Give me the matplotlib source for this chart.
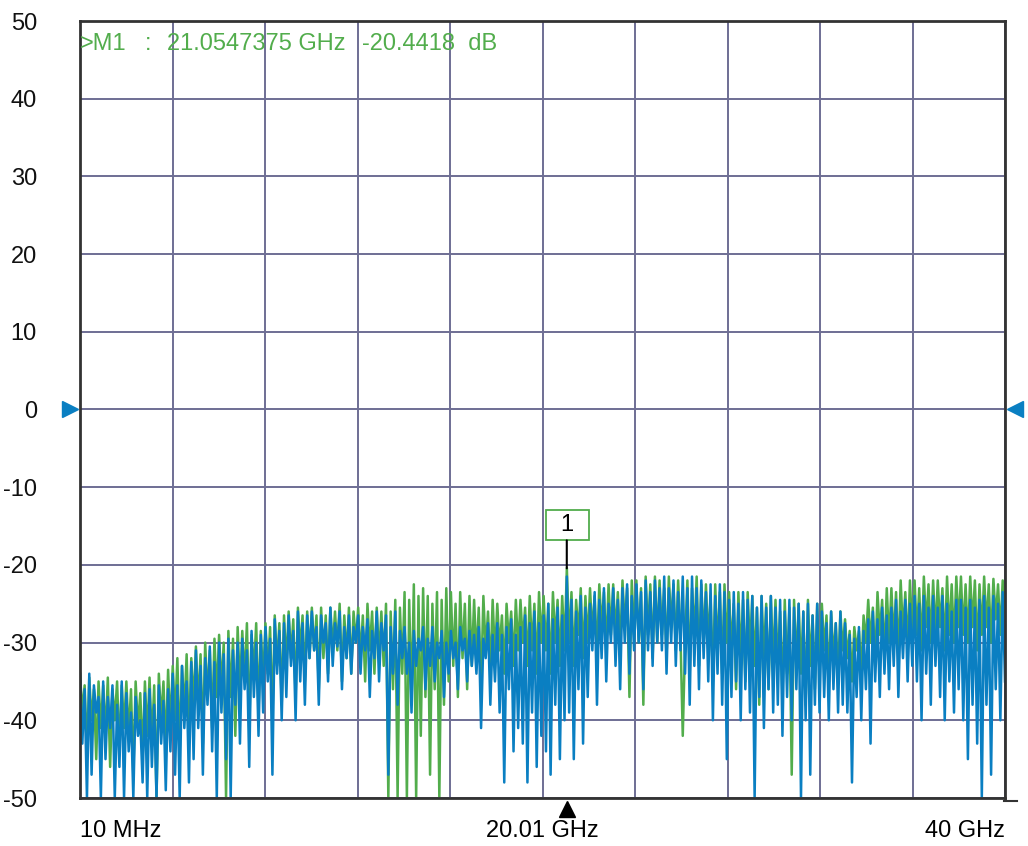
import matplotlib.pyplot as plt
import numpy as np
from matplotlib.patches import Rectangle
from matplotlib.transforms import IdentityTransform

plt.rcParams['font.family'] = ['Liberation Sans', 'DejaVu Sans']

# sweep: 10 MHz .. 40 GHz, 400 points (one row = 1 GHz)
f_start, f_stop = 0.01, 40.0

# trace 1 (green), dB
green_db = [
    -34, -39, -35.5, -44, -34.5, -40, -36, -45, -35, -41,
    -35.5, -42, -34.5, -46, -36, -40, -35, -44, -35.5, -41,
    -35, -42, -36, -47, -35, -41, -36.5, -45, -35, -42,
    -34.5, -43, -35.5, -50, -34, -40, -35, -44, -33.5, -41,
    -33, -40, -32, -44, -33, -39, -31.5, -43, -32, -38,
    -30.5, -38, -31.5, -43, -30, -37, -31, -41, -29.5, -37,
    -29, -36, -30, -50, -28.5, -37, -29.5, -42, -28, -36,
    -28.5, -35, -27.5, -41, -29, -34, -27.5, -39, -28.5, -35,
    -27.5, -34, -28, -40, -26.5, -33, -27.5, -38, -26.5, -33,
    -26, -32, -27, -37, -25.5, -31, -26.5, -35, -26, -32,
    -25.5, -31, -26.5, -36, -25.5, -32, -26.5, -34, -25.5, -31,
    -26, -31, -25, -35, -26.5, -32, -25.5, -34, -26, -30,
    -25.5, -32, -26.5, -35, -25, -31, -26, -34, -25.5, -32,
    -26, -33, -25, -50, -26, -36, -24.5, -50, -25.5, -34,
    -23.5, -50, -24.5, -38, -22.5, -50, -24, -42, -23, -37,
    -24, -47, -25, -36, -23.5, -50, -24.5, -38, -23, -35,
    -23.5, -33, -25, -37, -23.5, -32, -25, -36, -24, -33,
    -24.5, -32, -25.5, -36, -24, -31, -26, -34, -24.5, -32,
    -25, -31, -26.5, -34, -25, -30, -26, -33, -24.5, -31,
    -24.5, -30, -25.5, -33, -24, -31, -25, -34, -23.5, -30,
    -24, -31, -25, -34, -23.5, -30, -24.5, -33, -24, -31,
    -20.4, -30, -23.5, -33, -24.5, -29, -23, -32, -24, -30,
    -23, -29, -24, -32, -22.5, -28, -23.5, -31, -22.5, -29,
    -22.5, -29, -23.5, -31, -22, -28, -23, -37, -22, -29,
    -22, -30, -23, -38, -21.5, -29, -22.5, -32, -21.5, -30,
    -22, -29, -23, -32, -21.5, -28, -22.5, -31, -22, -29,
    -42, -30, -22, -34, -23, -29, -21.5, -33, -22.5, -30,
    -22.5, -30, -24, -35, -22.5, -31, -23.5, -34, -22.5, -30,
    -23.5, -31, -25, -36, -23.5, -32, -24.5, -35, -23.5, -31,
    -24, -33, -25.5, -38, -24, -32, -25, -36, -24, -33,
    -24.5, -33, -26, -37, -24.5, -34, -25.5, -47, -24.5, -33,
    -25, -34, -26, -38, -24.5, -33, -26.5, -36, -25, -34,
    -25, -31, -26.5, -35, -26, -32, -27.5, -34, -26, -31,
    -27, -32, -28.5, -35, -28, -31, -28.5, -34, -26.5, -30,
    -24.5, -30, -25.5, -33, -23.5, -29, -24.5, -32, -23, -30,
    -23, -30, -23.5, -32, -22, -29, -23.5, -31, -22, -29,
    -22, -29, -23, -31, -21.5, -28, -22.5, -30, -22, -29,
    -22, -28, -23, -31, -21.5, -29, -22.5, -30, -21.5, -28,
    -21.5, -29, -22.5, -30, -21.5, -28, -22, -31, -22.5, -29,
    -21.5, -28, -22.5, -30, -21.8, -27, -22.5, -29, -22, -27,
]

# trace 2 (blue), dB
blue_db = [
    -34, -43, -36, -50, -34, -47, -35.5, -39, -37, -50,
    -35, -45, -37, -41, -35.5, -50, -38, -46, -35, -50,
    -36.5, -44, -39, -50, -37, -42, -40, -48, -36.5, -50,
    -36, -46, -38, -50, -35.5, -43, -37.5, -49, -36, -44,
    -34, -47, -35.5, -50, -33, -41, -35, -48, -32.5, -45,
    -31, -41, -33, -47, -32, -38, -30.5, -44, -32.5, -50,
    -30, -39, -31.5, -45, -29.5, -50, -31, -38, -30, -43,
    -29.5, -36, -31, -46, -28.5, -37, -30, -42, -29, -39,
    -28, -35, -29.5, -47, -27, -34, -28.5, -40, -27.5, -37,
    -26.5, -33, -28.5, -40, -26, -35, -27.5, -38, -26.5, -32,
    -26, -31, -28, -38, -26.5, -30, -27.5, -35, -25.5, -33,
    -27.5, -30.5, -26, -36, -28, -32, -26.5, -34, -28, -30,
    -26.5, -34, -28, -31, -27, -37, -28.5, -32, -26, -35,
    -27.5, -31, -26.5, -47, -28, -34, -26, -38, -28.5, -32,
    -28, -34, -30, -39, -28.5, -33, -29.5, -31, -28, -36,
    -29.5, -33, -28, -35, -30, -32, -28.5, -37, -30, -34,
    -28.5, -32, -30, -36, -28, -31, -29.5, -35, -28.5, -33,
    -29, -34, -28, -41, -29.5, -32, -27.5, -38, -29, -35,
    -27.5, -39, -29, -48, -28, -36, -27, -44, -29, -41,
    -28, -43, -26.5, -48, -27.5, -39, -26, -46, -27.5, -42,
    -26.5, -44, -25, -47, -27, -38, -25.5, -45, -26.5, -40,
    -21.5, -39, -24.5, -45, -26, -36, -24, -43, -25.5, -37,
    -25, -31, -23.5, -38, -24.5, -32, -23, -35, -25, -30,
    -23, -33, -24.5, -36, -23, -30, -22.5, -34, -24, -31,
    -22.5, -30, -23.5, -36, -22, -31, -23.5, -33, -22, -30,
    -23, -31, -21.5, -34, -23, -30, -22, -33, -23.5, -31,
    -21.5, -34, -23, -38, -21.5, -33, -23, -36, -22, -32,
    -23.5, -35, -22.5, -40, -24, -34, -22.5, -38, -23.5, -45,
    -24.5, -37, -23.5, -35, -25, -40, -23.5, -36, -24.5, -39,
    -24, -50, -25.5, -37, -24, -41, -25.5, -36, -24, -39,
    -25.5, -38, -24.5, -42, -26, -37, -24.5, -40, -25.5, -36,
    -25, -50, -26, -40, -25, -47, -26.5, -38, -25, -39,
    -26, -37, -27.5, -40, -26, -36, -27.5, -39, -26, -38,
    -27.5, -39, -29, -48, -29.5, -37, -28, -40, -28.5, -36,
    -27, -43, -26, -35, -27, -37, -25.5, -34, -26.5, -36,
    -25.5, -33, -24.5, -37, -26, -32, -24.5, -35, -25, -33,
    -24, -35, -25, -40, -24, -34, -25.5, -38, -24, -33,
    -25.5, -37, -24, -40, -25, -35, -26, -39, -24.5, -36,
    -24.5, -40, -25.5, -45, -24.5, -38, -25.5, -43, -24.5, -50,
    -24, -38, -25.5, -47, -24, -36, -25, -40, -23.5, -35,
]

marker_f = 21.0547375
marker_db = -20.4418
y_ticks = [50, 40, 30, 20, 10, 0, -10, -20, -30, -40, -50]
x_labels = ["10 MHz", "20.01 GHz", "40 GHz"]

green = "#52ad4c"
blue = "#0a7fc2"
grid_c = "#6e6e94"

freq_g = np.linspace(f_start, f_stop, len(green_db))
freq_b = np.linspace(f_start, f_stop, len(blue_db))

fig = plt.figure(figsize=(10.28, 8.46), dpi=100)
ax = fig.add_axes([80 / 1028, 1 - 798 / 846, 925 / 1028, 777 / 846])

ax.plot(freq_g, green_db, color=green, lw=1.8)
ax.plot(freq_b, blue_db, color=blue, lw=1.8)

ax.set_xlim(f_start, f_stop)
ax.set_ylim(-50, 50)
ax.set_yticks(y_ticks)
ax.set_yticklabels([str(v) for v in y_ticks])
ax.set_xticks(np.linspace(f_start, f_stop, 11))
ax.set_xticklabels([""] * 11)
ax.grid(True, color=grid_c, lw=1.4)
ax.set_axisbelow(True)
ax.tick_params(length=0, labelsize=17, colors="#111111")
ax.tick_params(axis="y", pad=31)
for s in ax.spines.values():
    s.set_color("#333333")
    s.set_linewidth(2)

# x labels: start, centre, stop
ax.text(0.0, -0.043, x_labels[0], transform=ax.transAxes, ha="left", va="center", fontsize=17)
ax.text(0.5, -0.043, x_labels[1], transform=ax.transAxes, ha="center", va="center", fontsize=17)
ax.text(1.0, -0.043, x_labels[2], transform=ax.transAxes, ha="right", va="center", fontsize=17)

# marker readout
ax.text(0.0, 0.971, ">M1", transform=ax.transAxes, color=green, fontsize=17, va="center")
ax.text(0.07, 0.971, ":", transform=ax.transAxes, color=green, fontsize=17, va="center")
ax.text(0.094, 0.971, f"{marker_f:.7f} GHz", transform=ax.transAxes, color=green, fontsize=17, va="center")
ax.text(0.305, 0.971, f"{marker_db:.4f}  dB", transform=ax.transAxes, color=green, fontsize=17, va="center")

# reference-level arrows at 0 dB and stimulus marker arrow
ref_tr = ax.get_yaxis_transform()
ax.plot([-0.011], [0], marker=">", color=blue, ms=12, transform=ref_tr, clip_on=False)
ax.plot([1.011], [0], marker="<", color=blue, ms=12, transform=ref_tr, clip_on=False)
ax.plot([marker_f], [-0.014], marker="^", color="black", ms=11,
        transform=ax.get_xaxis_transform(), clip_on=False)
ax.plot([0.999, 1.013], [-0.004, -0.004], color="#333333", lw=1.5,
        transform=ax.transAxes, clip_on=False)

# marker flag "1" (drawn in pixels above the marker point)
px, py = ax.transData.transform((marker_f, marker_db))
ax.annotate("", xy=(marker_f, marker_db), xytext=(0, 28), textcoords="offset pixels",
            arrowprops=dict(arrowstyle="-", color="black", lw=1.5, shrinkA=0, shrinkB=0))
ax.add_artist(Rectangle((px - 21, py + 28), 43, 30, transform=IdentityTransform(),
                        fc="white", ec=green, lw=1.3, clip_on=False))
ax.annotate("1", xy=(marker_f, marker_db), xytext=(0, 43), textcoords="offset pixels",
            ha="center", va="center", fontsize=17)

fig.savefig("out.png", dpi=100)
